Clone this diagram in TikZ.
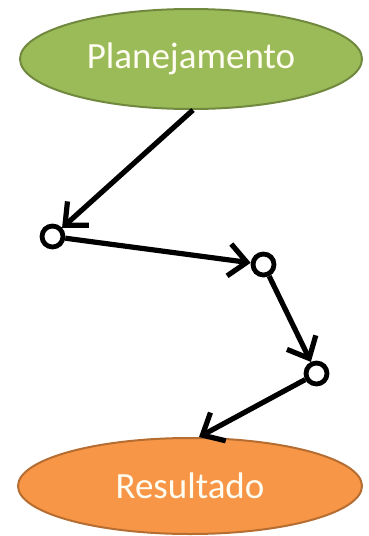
\documentclass[tikz,border=0pt]{standalone}
\usepackage{fontspec}
\setmainfont{Carlito}
\usetikzlibrary{shapes.geometric,arrows.meta}
\definecolor{greenfill}{HTML}{9BBB59}
\definecolor{greenline}{HTML}{71893F}
\definecolor{orangefill}{HTML}{F79646}
\definecolor{orangeline}{HTML}{B66D31}
\definecolor{labeltext}{HTML}{FFFDF2}
\begin{document}
\begin{tikzpicture}[x=1pt,y=-1pt,
  stage/.style={ellipse, draw, line width=2pt, inner sep=0pt,
    text=labeltext, font=\fontsize{37}{41}\selectfont},
  waypoint/.style={circle, draw=black, fill=white, line width=4.8pt,
    minimum size=21pt, inner sep=0pt},
  flow/.style={line width=5.2pt, black,
    -{Straight Barb[angle=84:24pt, line width=5.2pt]}}]
  \useasboundingbox (0,0) rectangle (368,536);
  \node[stage, fill=greenfill, draw=greenline,
        minimum width=342pt, minimum height=100pt] (plan) at (191,59) {Planejamento};
  \node[stage, fill=orangefill, draw=orangeline,
        minimum width=344pt, minimum height=96pt] (res) at (190,486) {Resultado};
  \node[waypoint] (p1) at (52.5,236.5) {};
  \node[waypoint] (p2) at (263.5,264.5) {};
  \node[waypoint] (p3) at (316.5,373.5) {};
  \coordinate (start) at (193,110);
  \coordinate (finish) at (199,437);
  \draw[flow] (start) -- (p1);
  \draw[flow] (p1) -- (p2);
  \draw[flow] (p2) -- (p3);
  \draw[flow] (p3) -- (finish);
\end{tikzpicture}
\end{document}
